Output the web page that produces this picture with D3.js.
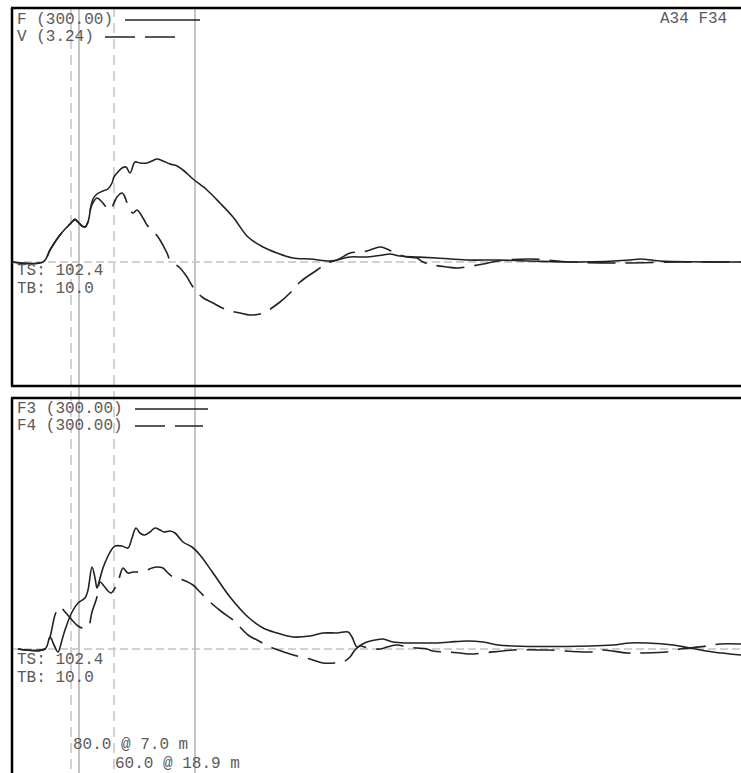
<!DOCTYPE html>
<html>
<head>
<meta charset="utf-8">
<script src="https://cdn.jsdelivr.net/npm/d3@7"></script>
<style>
  html, body { margin: 0; padding: 0; background: #fff; }
  svg { display: block; }
  text { font-family: "Liberation Mono", "DejaVu Sans Mono", monospace; font-size: 16px; fill: #5a5a5a; }
</style>
</head>
<body>
<svg id="chart" width="741" height="773"></svg>
<script>
// ---- Data (time in samples, amplitude in display units) ----
const forceTop = [[0,0],[31,0],[38,12],[43,20],[48,27],[54,34],[59,39],[63,43],[66,40],[70,36],[73,35],[76,40],[79,56],[81,63],[85,68],[91,71],[96,73],[100,79],[102,85],[106,90],[110,94],[114,95],[118,89],[123,100],[128,99],[135,99],[140,101],[145,103],[151,101],[158,98],[165,96],[171,92],[181,83],[195,72],[208,59],[221,45],[236,25],[251,15],[265,9],[281,4],[298,3],[318,1],[325,2],[338,5],[355,5],[371,7],[378,8],[388,6],[405,5],[425,4],[455,2],[486,2],[518,1],[568,0],[618,2],[628,3],[648,1],[729,0]];
const velocityTop = [[0,0],[31,0],[38,12],[43,20],[48,27],[54,34],[59,39],[63,42],[66,40],[70,36],[73,35],[76,40],[79,55],[82,61],[85,64],[90,60],[94,55],[98,52],[102,59],[105,65],[110,69],[112,67],[116,57],[121,49],[125,52],[131,44],[135,37],[143,29],[148,22],[155,9],[158,2],[168,-6],[175,-15],[181,-25],[190,-35],[201,-41],[215,-48],[228,-51],[238,-53],[251,-51],[268,-40],[278,-31],[288,-20],[305,-8],[315,-1],[325,2],[338,9],[345,10],[355,11],[368,15],[375,13],[383,9],[395,5],[405,4],[411,0],[421,-3],[435,-5],[446,-6],[460,-4],[471,-2],[486,1],[518,3],[558,0],[608,-1],[668,0],[729,0]];
const forceF3 = [[6,0],[33,0],[38,12],[42,4],[46,-3],[50,9],[53,19],[60,37],[66,46],[73,51],[76,59],[80,82],[83,71],[85,61],[87,67],[91,81],[96,93],[100,100],[103,103],[110,103],[116,101],[120,111],[124,121],[128,116],[133,114],[138,117],[143,121],[148,119],[152,117],[158,118],[163,116],[171,107],[180,102],[188,94],[201,76],[218,52],[236,32],[251,21],[265,16],[281,12],[298,13],[311,16],[325,16],[336,17],[340,12],[345,2],[349,4],[355,7],[363,9],[371,10],[381,7],[395,6],[411,6],[425,6],[438,7],[455,8],[471,7],[486,4],[501,3],[578,3],[601,4],[618,6],[635,6],[661,4],[678,1],[701,-3],[729,-6]];
const forceF4 = [[6,0],[33,0],[38,12],[43,34],[46,40],[48,42],[54,36],[60,29],[66,23],[70,21],[76,22],[80,37],[85,52],[88,67],[92,63],[96,58],[99,56],[103,61],[106,67],[109,77],[111,81],[116,76],[121,77],[125,77],[130,78],[135,79],[140,81],[145,82],[151,81],[156,76],[161,72],[171,69],[181,64],[188,57],[198,47],[210,37],[221,29],[236,14],[245,9],[258,2],[275,-4],[285,-7],[298,-10],[311,-14],[323,-14],[331,-13],[338,-8],[343,-1],[348,3],[356,1],[368,0],[375,2],[385,4],[395,2],[405,1],[415,0],[421,-2],[435,-3],[448,-4],[458,-5],[471,-4],[501,-1],[535,-1],[578,-3],[591,-1],[615,-4],[628,-4],[655,-3],[668,0],[678,1],[695,3],[708,5],[729,5]];
const markers = [{t:59, dashed:true},{t:67, dashed:false},{t:102, dashed:true},{t:183, dashed:false}];
const topLegend = ["F (300.00)", "V (3.24)"];
const bottomLegend = ["F3 (300.00)", "F4 (300.00)"];
const topRightLabel = "A34 F34";
const infoLabels = ["TS: 102.4", "TB: 10.0"];
const cursorLabels = ["80.0 @ 7.0 m", "60.0 @ 18.9 m"];

// ---- Scales ----
const svg = d3.select("#chart");
const x = d3.scaleLinear().domain([0, 729]).range([12, 741]);
const yTop = d3.scaleLinear().domain([-124, 254]).range([386, 8]);
const yBot = d3.scaleLinear().domain([-124, 251]).range([773, 398]);

const ink = "#222";
const grid = "#c4c4c4";

// zero lines
[yTop, yBot].forEach(ys => {
  svg.append("line").attr("x1", x(0)).attr("x2", x(729))
    .attr("y1", ys(0)).attr("y2", ys(0))
    .attr("stroke", grid).attr("stroke-width", 1.5).attr("stroke-dasharray", "8,4");
});

// cursor markers
markers.forEach(m => {
  svg.append("line").attr("x1", x(m.t)).attr("x2", x(m.t))
    .attr("y1", 7).attr("y2", 773)
    .attr("stroke", grid).attr("stroke-width", m.dashed ? 1.5 : 2)
    .attr("stroke-dasharray", m.dashed ? "10,6" : null);
});

// panel frames
function hline(y) {
  svg.append("line").attr("x1", 11).attr("x2", 741).attr("y1", y).attr("y2", y)
    .attr("stroke", "#000").attr("stroke-width", 2.5);
}
function vline(y1, y2) {
  svg.append("line").attr("x1", 12).attr("x2", 12).attr("y1", y1).attr("y2", y2)
    .attr("stroke", "#000").attr("stroke-width", 2.5);
}
hline(yTop.range()[1]); vline(yTop.range()[1], yTop.range()[0]); hline(yTop.range()[0]);
hline(yBot.range()[1]); vline(yBot.range()[1], 773);

// traces
function trace(data, ys, dashed) {
  const line = d3.line().x(d => x(d[0])).y(d => ys(d[1])).curve(d3.curveCatmullRom.alpha(0.5));
  svg.append("path").datum(data).attr("d", line)
    .attr("fill", "none").attr("stroke", ink).attr("stroke-width", 1.6)
    .attr("stroke-linejoin", "round")
    .attr("stroke-dasharray", dashed ? "28,10" : null);
}
trace(forceTop, yTop, false);
trace(velocityTop, yTop, true);
trace(forceF3, yBot, false);
trace(forceF4, yBot, true);

// legends
function legend(labels, y0, lines) {
  labels.forEach((lab, i) => {
    svg.append("text").attr("x", 17).attr("y", y0 + i * 17).text(lab);
    const l = lines[i];
    svg.append("line").attr("x1", l[0]).attr("x2", l[1])
      .attr("y1", y0 + i * 17 - 4).attr("y2", y0 + i * 17 - 4)
      .attr("stroke", ink).attr("stroke-width", 1.6)
      .attr("stroke-dasharray", i === 1 ? "30,10" : null);
  });
}
legend(topLegend, 24, [[125, 200], [105, 175]]);
legend(bottomLegend, 413, [[135, 208], [135, 203]]);

svg.append("text").attr("x", 660).attr("y", 23).text(topRightLabel);

// info labels
infoLabels.forEach((lab, i) => {
  svg.append("text").attr("x", 17).attr("y", yTop(0) + 13 + i * 18).text(lab);
  svg.append("text").attr("x", 17).attr("y", yBot(0) + 15 + i * 18).text(lab);
});

// cursor labels
svg.append("text").attr("x", x(markers[0].t) + 2).attr("y", 749).text(cursorLabels[0]);
svg.append("text").attr("x", x(markers[2].t) + 1).attr("y", 768).text(cursorLabels[1]);
</script>
</body>
</html>
